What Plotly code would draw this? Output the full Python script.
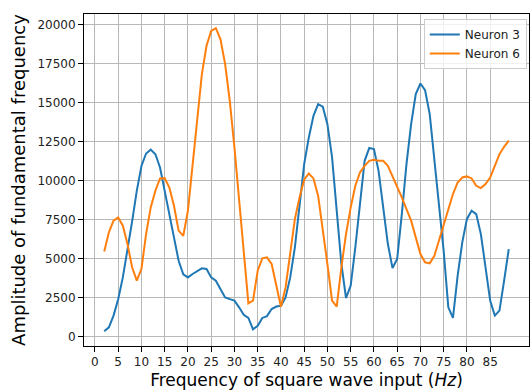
import plotly.graph_objects as go

freq = list(range(2, 90))

neuron3 = [340, 600, 1350, 2400, 3800, 5500, 7400, 9350, 10950, 11750,
           12000, 11700, 10850, 9350, 7850, 6350, 4870, 4000, 3800, 4020,
           4190, 4380, 4340, 3800, 3590, 3060, 2520, 2410, 2310, 1880,
           1400, 1200, 470, 700, 1200, 1320, 1770, 1930, 1980, 2520,
           3800, 5730, 8290, 11070, 12780, 14170, 14920, 14750, 13630, 11500,
           8080, 4660, 2480, 3270, 5730, 8720, 11280, 12100, 12030, 10640,
           8290, 5940, 4400, 4980, 7860, 11070, 13630, 15560, 16240, 15810,
           14280, 11500, 8290, 5500, 1880, 1200, 3900, 6050, 7550, 8080,
           7860, 6580, 4450, 2310, 1350, 1670, 3590, 5620]

neuron6 = [5470, 6690, 7440, 7650, 7120, 5940, 4450, 3590, 4340, 6580,
           8290, 9360, 10150, 10170, 9570, 8400, 6800, 6470, 8080, 11070,
           14280, 16840, 18660, 19620, 19790, 19080, 17480, 15130, 12140, 8720,
           5300, 2140, 2310, 4230, 5020, 5090, 4660, 3380, 1920, 3160,
           5300, 7540, 8930, 10070, 10470, 10150, 9040, 7010, 4660, 2310,
           1920, 4450, 6580, 8290, 9680, 10540, 10960, 11280, 11350, 11280,
           11280, 10960, 10320, 9570, 8930, 8180, 7440, 6370, 5300, 4770,
           4700, 5190, 6150, 7150, 8030, 9150, 9890, 10210, 10280, 10150,
           9680, 9530, 9790, 10210, 10960, 11710, 12180, 12570]

xticks = list(range(0, 90, 5))
yticks = list(range(0, 20001, 2500))
ytick_labels = [str(v) for v in yticks]

FONT = "DejaVu Sans"

fig = go.Figure()
fig.add_trace(go.Scatter(x=freq, y=neuron3, mode="lines", name="Neuron 3",
                         line=dict(color="#1f77b4", width=2)))
fig.add_trace(go.Scatter(x=freq, y=neuron6, mode="lines", name="Neuron 6",
                         line=dict(color="#ff7f0e", width=2)))

axis_common = dict(
    showgrid=True, gridcolor="#b8b8b8", gridwidth=1,
    showline=True, linecolor="black", linewidth=1, mirror=True,
    ticks="outside", ticklen=5, tickcolor="black", tickwidth=1,
    zeroline=False, tickfont=dict(family=FONT, size=12, color="#222"),
)

fig.update_layout(
    width=531, height=390,
    margin=dict(l=84, r=2, t=14, b=44),
    paper_bgcolor="white", plot_bgcolor="white",
    font=dict(family=FONT, color="black"),
    xaxis=dict(range=[-2.35, 93.35], tickvals=xticks,
               title=dict(text="Frequency of square wave input (<i>Hz</i>)",
                          font=dict(family=FONT, size=17), standoff=5),
               **axis_common),
    yaxis=dict(range=[-600, 20700], tickvals=yticks, ticktext=ytick_labels,
               title=dict(text="Amplitude of fundamental frequency",
                          font=dict(family=FONT, size=18), standoff=7),
               **axis_common),
    legend=dict(x=0.995, y=0.985, xanchor="right", yanchor="top",
                bgcolor="rgba(255,255,255,0.8)", bordercolor="#cccccc",
                borderwidth=1, font=dict(family=FONT, size=12, color="#222"),
                itemwidth=30, tracegroupgap=0),
    showlegend=True,
)

fig.write_html("out.html")
